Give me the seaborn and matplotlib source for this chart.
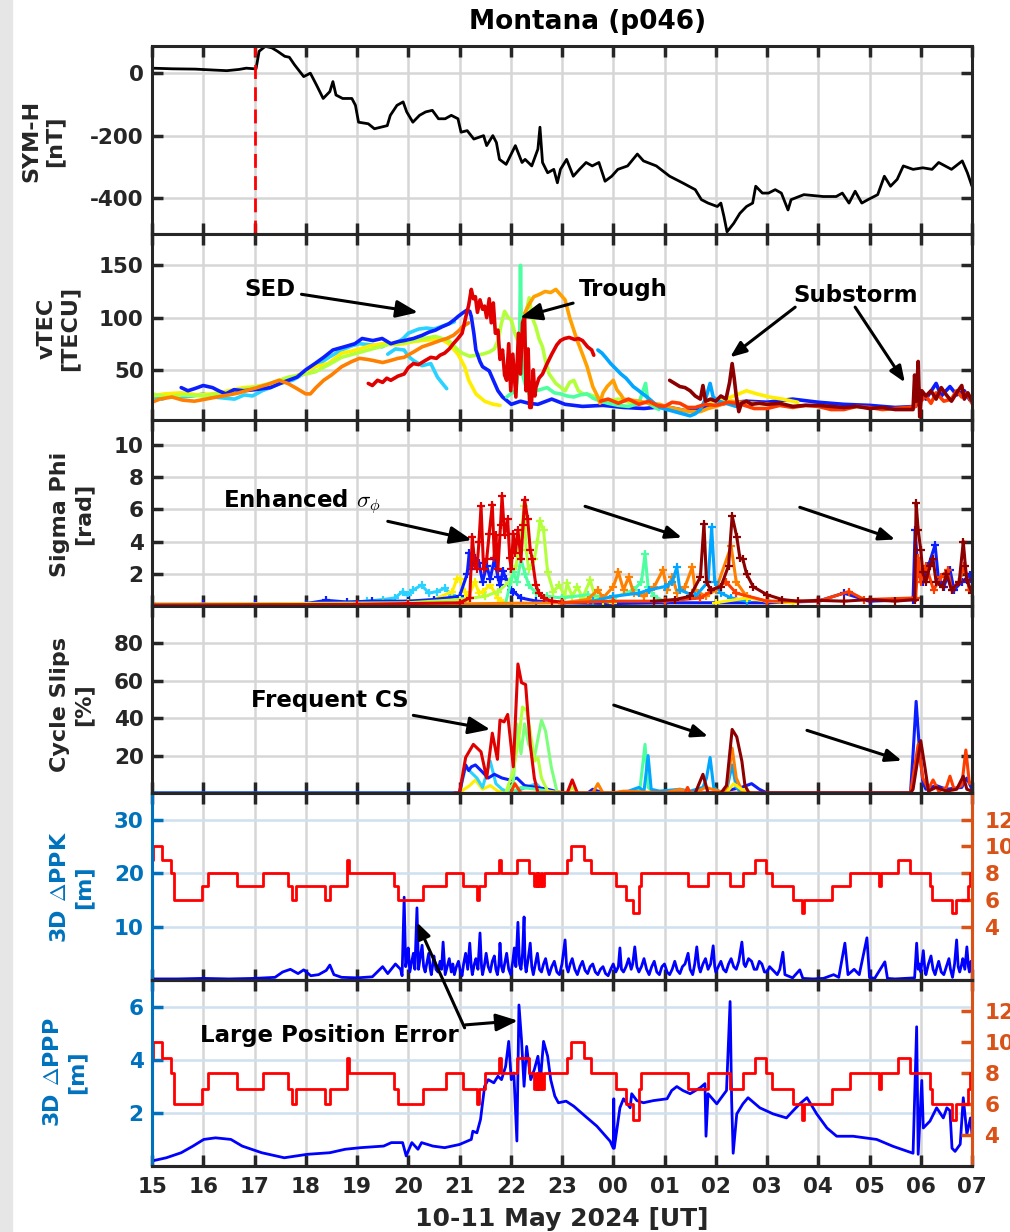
import matplotlib
matplotlib.use("Agg")
import matplotlib.pyplot as plt
import seaborn as sns
from matplotlib.patches import Rectangle

# ---------------- data (time in hours after 15 UT, 10 May 2024) ----------------
hour_ticks = list(range(0, 17))
hour_labels = ["15", "16", "17", "18", "19", "20", "21", "22", "23",
               "00", "01", "02", "03", "04", "05", "06", "07"]
storm_onset = 2.0

symh = [(0.00, 16), (0.4, 14), (0.84, 13), (1.2, 10), (1.46, 8), (1.7, 12), (1.84, 16), (2.0, 14),
        (2.03, 14), (2.09, 70), (2.21, 86), (2.34, 81), (2.45, 70), (2.59, 54), (2.68, 51), (2.78, 27),
        (2.96, -11), (3.09, 0), (3.21, -38), (3.34, -81), (3.47, -59), (3.53, -27), (3.59, -70),
        (3.72, -81), (3.90, -81), (3.97, -103), (4.03, -157), (4.22, -162), (4.34, -178), (4.59, -168),
        (4.65, -135), (4.78, -103), (4.90, -92), (4.97, -124), (5.09, -157), (5.22, -135), (5.34, -124),
        (5.47, -119), (5.59, -146), (5.72, -146), (5.84, -135), (5.97, -146), (6.03, -189), (6.15, -184),
        (6.28, -211), (6.47, -200), (6.53, -232), (6.65, -200), (6.72, -222), (6.78, -276), (6.91, -292),
        (7.09, -232), (7.22, -286), (7.28, -276), (7.41, -297), (7.53, -243), (7.57, -173), (7.62, -286),
        (7.72, -319), (7.84, -308), (7.91, -351), (7.97, -308), (8.09, -276), (8.22, -330), (8.34, -308),
        (8.47, -286), (8.59, -297), (8.72, -286), (8.84, -346), (8.97, -330), (9.09, -308), (9.28, -297),
        (9.47, -259), (9.59, -281), (9.84, -297), (10.10, -330), (10.35, -351), (10.60, -373),
        (10.72, -405), (10.85, -416), (11.03, -427), (11.10, -416), (11.16, -459), (11.22, -508),
        (11.35, -481), (11.47, -449), (11.60, -427), (11.72, -416), (11.78, -362), (11.91, -384),
        (12.03, -384), (12.16, -373), (12.28, -384), (12.41, -438), (12.47, -405), (12.72, -389),
        (13.10, -395), (13.35, -395), (13.47, -384), (13.60, -416), (13.72, -378), (13.85, -416),
        (13.97, -405), (14.16, -389), (14.29, -330), (14.41, -362), (14.54, -340), (14.66, -297),
        (14.85, -308), (15.04, -303), (15.22, -308), (15.35, -286), (15.60, -308), (15.81, -281),
        (15.91, -319), (16.00, -362)]

# vTEC per satellite [TECU]
tec_blue = [(0.57, 33), (0.7, 30), (0.83, 32), (1.0, 35), (1.18, 33), (1.3, 30), (1.44, 27), (1.6, 31),
            (1.79, 30), (2.0, 31), (2.31, 33), (2.55, 38), (2.83, 43), (3.0, 50), (3.18, 56), (3.35, 62),
            (3.53, 69), (3.75, 72), (3.96, 75), (4.1, 80), (4.31, 78), (4.49, 80), (4.66, 75), (4.8, 77),
            (4.92, 78), (5.1, 80), (5.27, 83), (5.4, 86), (5.53, 88), (5.65, 91), (5.79, 94), (5.9, 98),
            (5.97, 101), (6.05, 104), (6.14, 107), (6.2, 106), (6.23, 101), (6.28, 85), (6.32, 69),
            (6.4, 58), (6.45, 53), (6.58, 49), (6.66, 40), (6.75, 30), (6.84, 24), (7.01, 17), (7.19, 20),
            (7.35, 18), (7.53, 17), (7.8, 22), (8.06, 17), (8.4, 15), (8.8, 16), (9.2, 14), (9.6, 13),
            (10.0, 15), (10.4, 11), (10.8, 14), (11.2, 18), (11.6, 20), (12.0, 19), (12.5, 22), (13.0, 19),
            (13.5, 17), (14.0, 16), (14.5, 14), (14.9, 15), (15.0, 28), (15.1, 22), (15.3, 37), (15.4, 25),
            (15.57, 34), (15.7, 26), (15.85, 30), (15.96, 21), (16.0, 24)]
tec_cyan = [(0.0, 24), (0.2, 22), (0.4, 26), (0.57, 24), (0.8, 25), (1.0, 27), (1.2, 24), (1.4, 23),
            (1.61, 22), (1.8, 26), (1.96, 25), (2.15, 30), (2.31, 33), (2.5, 37), (2.74, 40), (2.95, 46),
            (3.18, 53), (3.45, 62), (3.7, 69), (3.9, 73), (4.05, 75), (4.25, 74), (4.49, 72), (4.6, 75),
            (4.75, 75), (4.9, 80), (5.0, 85), (5.2, 89), (5.36, 90), (5.5, 89), (5.62, 91), (5.79, 94),
            (5.9, 96)]
tec_cyan_b = [(4.6, 65), (4.75, 70), (4.92, 69), (5.0, 63), (5.1, 59), (5.27, 54), (5.44, 56), (5.5, 50),
              (5.57, 43), (5.65, 38), (5.75, 32)]
tec_yellow = [(0, 25), (0.25, 27), (0.57, 28), (0.9, 26), (1.18, 27), (1.5, 30), (1.79, 33), (2.05, 34),
              (2.31, 36), (2.5, 40), (2.74, 43), (3.0, 48), (3.18, 53), (3.44, 56), (3.7, 66), (3.9, 68),
              (4.05, 70), (4.25, 73), (4.49, 75), (4.7, 74), (4.92, 75), (5.1, 77), (5.27, 78), (5.45, 79),
              (5.62, 80), (5.79, 75), (5.97, 65), (6.1, 53), (6.18, 40), (6.32, 27), (6.49, 20), (6.66, 17),
              (6.79, 16)]
tec_yellow_b = [(10.9, 20), (11.2, 22), (11.4, 26), (11.6, 30), (11.8, 27), (12.05, 24), (12.3, 22),
                (12.6, 19)]
tec_chart = [(0, 27), (0.3, 24), (0.6, 26), (1.0, 25), (1.4, 28), (1.96, 33), (2.3, 37), (2.66, 43),
             (2.9, 45), (3.18, 48), (3.45, 55), (3.7, 62), (4.0, 66), (4.22, 69), (4.45, 72), (4.66, 75),
             (4.9, 76), (5.1, 78), (5.3, 80), (5.53, 82), (5.79, 78), (5.95, 70), (6.05, 66), (6.2, 63),
             (6.32, 64), (6.45, 65), (6.58, 67), (6.68, 70), (6.75, 78), (6.82, 95), (6.88, 106), (6.95, 100),
             (7.01, 98), (7.08, 85), (7.14, 78), (7.23, 91), (7.3, 105), (7.36, 119), (7.42, 100), (7.49, 91),
             (7.55, 80), (7.62, 72), (7.68, 58), (7.75, 46), (7.88, 37), (8.06, 30), (8.15, 38), (8.23, 40),
             (8.32, 30), (8.41, 27), (8.55, 26), (8.67, 24), (8.84, 20), (9.1, 22), (9.45, 17)]
tec_aqua = [(6.92, 24), (7.0, 27), (7.1, 30), (7.17, 60), (7.19, 150), (7.21, 70), (7.23, 46), (7.3, 33),
            (7.36, 27), (7.5, 30), (7.71, 33), (7.85, 28), (7.97, 27), (8.1, 25), (8.23, 24), (8.35, 26),
            (8.49, 27), (8.6, 23), (8.75, 20), (8.9, 18), (9.1, 16), (9.3, 15), (9.5, 18), (9.63, 37),
            (9.68, 18), (9.89, 12)]
tec_orange = [(0, 19), (0.15, 22), (0.39, 24), (0.6, 21), (0.83, 20), (1.05, 22), (1.26, 24), (1.5, 26),
              (1.7, 28), (1.9, 31), (2.05, 33), (2.25, 36), (2.48, 40), (2.65, 37), (2.83, 32), (3.0, 27),
              (3.09, 27), (3.2, 33), (3.35, 40), (3.5, 45), (3.7, 53), (3.9, 58), (4.05, 61), (4.2, 60),
              (4.31, 59), (4.5, 57), (4.66, 59), (4.8, 61), (4.92, 62), (5.1, 67), (5.27, 72), (5.45, 75),
              (5.62, 78), (5.75, 80), (5.88, 83), (6.0, 88), (6.05, 91), (6.18, 95)]
tec_amber = [(7.27, 104), (7.35, 112), (7.45, 120), (7.55, 122), (7.67, 125), (7.78, 124), (7.88, 127),
             (7.97, 122), (8.06, 117), (8.15, 100), (8.29, 79), (8.4, 65), (8.49, 53), (8.6, 34), (8.7, 24),
             (8.74, 18), (8.8, 28), (8.88, 34), (9.0, 40), (9.07, 31), (9.15, 26), (9.2, 22), (9.35, 21),
             (9.5, 20), (9.7, 18), (9.9, 17), (10.1, 14), (10.3, 12), (10.5, 10), (10.7, 10), (10.85, 13),
             (11.0, 15), (11.3, 20), (11.5, 19), (11.8, 18), (12.1, 17), (12.5, 15)]
tec_red = [(4.22, 37), (4.3, 35), (4.4, 40), (4.5, 38), (4.58, 42), (4.66, 40), (4.8, 44), (4.92, 46),
           (5.0, 52), (5.1, 56), (5.2, 55), (5.3, 58), (5.44, 62), (5.55, 61), (5.62, 64), (5.71, 66),
           (5.8, 70), (5.88, 75), (5.97, 80), (6.05, 85), (6.12, 100), (6.18, 112), (6.23, 127), (6.27, 118),
           (6.31, 120), (6.35, 105), (6.4, 117), (6.45, 108), (6.49, 111), (6.53, 100), (6.58, 118),
           (6.62, 95), (6.66, 114), (6.7, 85), (6.75, 88), (6.79, 60), (6.84, 69), (6.88, 45), (6.92, 40),
           (6.96, 75), (7.0, 30), (7.04, 65), (7.1, 24), (7.15, 85), (7.19, 46), (7.23, 95), (7.27, 101),
           (7.3, 30), (7.34, 70), (7.37, 14), (7.4, 14), (7.44, 50), (7.47, 25), (7.49, 33), (7.55, 42),
           (7.62, 46), (7.7, 55), (7.8, 65), (7.9, 74), (7.97, 78), (8.05, 80), (8.14, 81), (8.25, 79),
           (8.32, 80), (8.4, 78), (8.5, 72), (8.58, 69), (8.62, 64)]
tec_sky = [(8.7, 69), (8.78, 66), (8.85, 62), (8.95, 56), (9.07, 50), (9.15, 46), (9.25, 42), (9.39, 34),
           (9.5, 30), (9.55, 28), (9.66, 24), (9.8, 18), (9.91, 14), (10.05, 12), (10.2, 10), (10.35, 8),
           (10.5, 6), (10.6, 8), (10.7, 12), (10.8, 22), (10.89, 37), (10.95, 24), (11.05, 20), (11.2, 18),
           (11.4, 15)]
tec_orred = [(8.75, 20), (8.9, 22), (9.1, 18), (9.3, 22), (9.5, 17), (9.7, 20), (9.85, 16), (10.0, 15),
             (10.15, 19), (10.3, 18), (10.45, 14), (10.6, 14), (10.8, 17), (11.0, 16), (11.25, 19),
             (11.5, 17), (11.75, 13), (12.0, 13), (12.25, 16), (12.5, 14), (12.75, 16), (13.0, 15),
             (13.25, 12), (13.5, 12), (13.75, 15), (14.0, 14), (14.25, 12), (14.5, 13), (14.75, 14),
             (14.9, 15), (14.95, 35), (15.0, 20), (15.1, 25), (15.2, 18), (15.3, 28), (15.45, 20),
             (15.6, 22), (15.7, 30), (15.8, 24), (15.9, 28), (16.0, 18)]
tec_dark = [(10.1, 40), (10.2, 37), (10.3, 34), (10.4, 33), (10.5, 30), (10.6, 25), (10.7, 22), (10.75, 35),
            (10.8, 20), (10.9, 22), (11.0, 20), (11.1, 25), (11.2, 22), (11.27, 38), (11.32, 56),
            (11.36, 42), (11.4, 25), (11.45, 10), (11.5, 18), (11.6, 20), (11.7, 17), (11.85, 18),
            (12.0, 17), (12.25, 18), (12.5, 15), (12.75, 16), (13.0, 16), (13.25, 15), (13.5, 14),
            (13.75, 15), (14.0, 13), (14.25, 14), (14.5, 12), (14.7, 12), (14.85, 12), (14.88, 45),
            (14.91, 20), (14.95, 58), (14.98, 5), (15.02, 30), (15.1, 25), (15.2, 30), (15.3, 22),
            (15.4, 33), (15.5, 26), (15.6, 20), (15.7, 28), (15.8, 35), (15.85, 22), (15.92, 28), (16.0, 20)]

# phase scintillation index sigma_phi per satellite [rad]
sp_blue = [(0, 0.1), (1, 0.1), (2, 0.1), (3, 0.15), (3.4, 0.35), (3.8, 0.25), (4.3, 0.3), (5.0, 0.3),
           (5.5, 0.4), (6.0, 0.6), (6.15, 2.0), (6.19, 3.3), (6.23, 2.3), (6.3, 3.0), (6.38, 2.7),
           (6.45, 1.5), (6.53, 2.5), (6.6, 1.7), (6.68, 2.9), (6.75, 1.8), (6.79, 1.3), (6.85, 2.2),
           (6.9, 1.7), (7.0, 1.0), (7.05, 0.9), (7.2, 0.5), (7.5, 0.3), (8, 0.2), (9, 0.15), (10, 0.2),
           (11, 0.2), (12.0, 0.2), (13.0, 0.3), (13.5, 0.8), (14.0, 0.3), (14.85, 0.4), (14.89, 4.7),
           (14.95, 2.0), (15.05, 1.5), (15.15, 2.5), (15.28, 3.8), (15.35, 1.5), (15.45, 1.2),
           (15.57, 2.25), (15.65, 1.0), (15.8, 1.5), (15.96, 1.9), (16.0, 1.5)]
sp_cyan = [(0, 0.1), (2, 0.1), (3.5, 0.15), (4.2, 0.3), (4.5, 0.4), (4.74, 0.5), (4.89, 0.9), (5.0, 0.7),
           (5.1, 1.0), (5.26, 1.3), (5.4, 0.8), (5.56, 0.9), (5.71, 1.1), (5.85, 0.7), (6.0, 0.5), (6.1, 0.3)]
sp_sky = [(8.6, 0.3), (9.0, 0.6), (9.5, 0.8), (9.7, 1.0), (10.0, 1.2), (10.15, 1.5), (10.24, 2.4),
          (10.3, 1.0), (10.6, 0.6), (10.85, 1.5), (10.92, 4.9), (10.98, 1.5), (11.1, 0.8), (11.3, 0.5),
          (11.6, 0.3)]
sp_yellow = [(0, 0.1), (3, 0.1), (4.5, 0.2), (5.5, 0.4), (5.86, 0.9), (5.95, 1.7), (6.0, 1.7), (6.1, 0.9),
             (6.16, 0.5), (6.3, 1.5), (6.38, 0.8), (6.45, 0.9), (6.6, 1.3), (6.75, 0.5), (6.85, 0.2)]
sp_yellow_b = [(11.0, 0.2), (11.6, 0.5), (12.0, 0.3), (12.5, 0.2)]
sp_chart = [(0, 0.1), (5, 0.2), (6.0, 0.4), (6.5, 0.6), (6.75, 0.9), (6.97, 1.5), (7.1, 2.5), (7.2, 4.3),
            (7.26, 6.2), (7.3, 3.5), (7.35, 2.3), (7.46, 2.9), (7.52, 4.0), (7.57, 5.3), (7.64, 4.7),
            (7.72, 2.1), (7.83, 0.9), (7.95, 1.3), (8.05, 0.6), (8.1, 1.4), (8.2, 0.6), (8.3, 1.2),
            (8.4, 0.5), (8.55, 1.6), (8.65, 0.5), (8.8, 0.3), (9.0, 0.2)]
sp_aqua = [(6.9, 0.2), (7.05, 2.1), (7.12, 1.5), (7.2, 2.9), (7.28, 2.0), (7.35, 1.3), (7.5, 0.8),
           (7.7, 0.6), (8.0, 0.5), (8.5, 0.7), (9.0, 0.5), (9.4, 1.0), (9.55, 1.5), (9.62, 3.2),
           (9.68, 1.2), (9.8, 0.6), (10.0, 0.3)]
sp_orange = [(0, 0.1), (5.0, 0.1), (8.0, 0.2), (8.5, 0.4), (8.7, 1.0), (8.8, 0.5), (9.0, 1.2), (9.1, 2.1),
             (9.2, 1.0), (9.3, 1.8), (9.4, 0.8), (9.6, 0.6), (9.8, 1.2), (9.97, 2.25), (10.05, 1.0),
             (10.15, 1.8), (10.25, 0.8), (10.4, 1.2), (10.54, 2.4), (10.6, 1.0), (10.8, 0.6), (11.0, 1.0),
             (11.3, 3.7), (11.4, 1.5), (11.6, 0.6), (12.0, 0.3)]
sp_red = [(0, 0.05), (4.0, 0.1), (5.0, 0.15), (6.0, 0.2), (6.2, 0.5), (6.25, 4.3), (6.3, 2.5), (6.34, 2.3),
          (6.38, 4.0), (6.42, 6.2), (6.47, 2.3), (6.53, 2.9), (6.58, 4.5), (6.64, 6.3), (6.68, 3.0),
          (6.71, 4.4), (6.75, 2.3), (6.8, 5.0), (6.83, 6.8), (6.88, 4.4), (6.94, 5.4), (6.98, 3.0),
          (7.01, 2.3), (7.05, 4.5), (7.09, 3.3), (7.14, 4.7), (7.2, 2.9), (7.24, 5.0), (7.27, 6.6),
          (7.33, 5.4), (7.38, 3.5), (7.42, 2.9), (7.49, 1.3), (7.55, 0.8), (7.64, 0.5), (7.8, 0.3), (8.0, 0.25)]
sp_orred = [(8.0, 0.2), (9, 0.3), (10, 0.3), (10.7, 0.5), (11.2, 1.5), (11.4, 0.8), (12, 0.3), (13.0, 0.3),
            (13.6, 0.9), (13.9, 0.4), (14.9, 0.5), (14.95, 3.0), (15.0, 1.5), (15.1, 2.5), (15.25, 1.0),
            (15.4, 1.8), (15.53, 2.25), (15.6, 1.0), (15.75, 1.5), (15.85, 2.5), (15.95, 1.0), (16, 1.2)]
sp_dark = [(9.8, 0.3), (10.2, 0.4), (10.5, 0.6), (10.7, 1.8), (10.77, 5.1), (10.82, 1.5), (10.9, 1.0),
           (11.1, 1.2), (11.25, 2.5), (11.32, 5.6), (11.41, 4.3), (11.47, 3.0), (11.53, 2.9), (11.6, 2.0),
           (11.73, 1.2), (12.0, 0.7), (12.3, 0.4), (12.6, 0.3), (13.0, 0.35), (13.5, 0.3), (14.0, 0.4),
           (14.5, 0.3), (14.88, 0.4), (14.91, 6.4), (14.95, 4.7), (15.0, 3.5), (15.04, 2.1), (15.1, 1.5),
           (15.18, 2.5), (15.24, 2.9), (15.3, 1.5), (15.43, 1.2), (15.5, 2.0), (15.6, 1.0), (15.75, 1.5),
           (15.83, 4.0), (15.87, 2.5), (15.9, 1.6), (16.0, 0.8)]

# cycle slip occurrence per satellite [%]
cs_blue = [(0, 0), (6.0, 0), (6.06, 8), (6.12, 15), (6.18, 12), (6.23, 14), (6.31, 15), (6.42, 12),
           (6.56, 8), (6.68, 10), (6.83, 8), (6.98, 7), (7.12, 8), (7.27, 4), (7.5, 3), (7.72, 2), (8.0, 0),
           (8.5, 0), (8.6, 2), (8.8, 0), (11.0, 0), (11.5, 3), (11.7, 5), (11.85, 2), (12, 0), (14.8, 0),
           (14.85, 21), (14.91, 49), (14.97, 25), (15.04, 6), (15.1, 2), (15.3, 4), (15.5, 2), (15.8, 3),
           (15.9, 8), (16, 2)]
cs_cyan = [(0, 0), (6.0, 0), (6.12, 14), (6.19, 12), (6.34, 8), (6.45, 3), (6.6, 17), (6.71, 5), (6.83, 2),
           (7.0, 0), (7.2, 2), (7.5, 5), (7.6, 2), (8, 0)]
cs_sky = [(9.0, 0), (9.3, 1), (9.5, 3), (9.6, 1), (9.68, 20), (9.74, 2), (9.9, 1), (10.3, 2), (10.5, 1),
          (10.75, 3), (10.82, 8), (10.89, 19), (10.96, 3), (11.1, 0), (11.2, 0), (11.28, 10), (11.32, 15),
          (11.4, 3), (11.5, 0)]
cs_yellow = [(6.0, 0), (6.04, 1), (6.2, 4), (6.31, 7), (6.45, 2), (6.6, 4), (6.75, 1), (7.0, 0)]
cs_yellow_b = [(11.2, 0), (11.35, 5), (11.5, 2), (11.7, 0)]
cs_chart = [(6.9, 0), (7.05, 12), (7.16, 30), (7.23, 46), (7.31, 44), (7.38, 33), (7.46, 17), (7.53, 19),
            (7.6, 8), (7.72, 1), (7.9, 0), (8.1, 0), (8.2, 3), (8.3, 0)]
cs_green = [(6.9, 0), (7.05, 5), (7.12, 37), (7.2, 21), (7.27, 37), (7.35, 26), (7.46, 19), (7.6, 39),
            (7.68, 33), (7.79, 14), (7.9, 1), (8.0, 0)]
cs_aqua = [(7.0, 0), (7.2, 3), (7.5, 2), (8.0, 0), (9.3, 0), (9.52, 2), (9.62, 26), (9.68, 3), (9.8, 0)]
cs_orange = [(7.5, 0), (8.6, 0), (8.7, 5), (8.8, 0), (9.0, 0), (9.2, 1), (10.0, 0), (10.3, 2), (10.4, 1),
             (10.6, 0), (10.8, 3), (11.2, 0), (11.32, 24), (11.4, 8), (11.5, 2), (11.6, 0)]
cs_red = [(5.9, 0), (6.0, 0), (6.12, 19), (6.27, 26), (6.42, 22), (6.53, 8), (6.64, 32), (6.74, 18),
          (6.79, 39), (6.87, 38), (6.94, 42), (7.05, 14), (7.14, 69), (7.21, 59), (7.29, 58), (7.38, 26),
          (7.46, 8), (7.53, 0), (8.1, 0), (8.2, 7), (8.3, 0)]
cs_orred = [(7.0, 0), (7.08, 5), (7.2, 0), (10.4, 0), (10.45, 3), (10.5, 0), (14.8, 0), (14.95, 26),
            (15.04, 8), (15.15, 2), (15.24, 7), (15.35, 1), (15.5, 3), (15.57, 9), (15.65, 2), (15.8, 4),
            (15.88, 23), (15.95, 5), (16.0, 6)]
cs_dark = [(10.6, 0), (10.75, 10), (10.85, 0), (11.1, 0), (11.21, 4), (11.32, 34), (11.41, 30),
           (11.51, 17), (11.57, 4), (11.65, 0), (14.8, 0), (14.85, 2), (15.0, 28), (15.08, 14), (15.15, 1),
           (15.3, 3), (15.5, 1), (15.7, 2), (15.83, 9), (15.9, 2), (16.0, 1)]

# number of tracked satellites (right axes), step changes
nsat = [(0.00, 9), (0.02, 10), (0.19, 9), (0.38, 8), (0.42, 6), (0.97, 7), (1.10, 8), (1.66, 7), (2.16, 8),
        (2.66, 7), (2.73, 6), (2.80, 7), (3.38, 6), (3.48, 7), (3.81, 9), (3.84, 8), (4.73, 7), (4.80, 6),
        (5.28, 7), (5.74, 8), (6.07, 7), (6.34, 6), (6.39, 7), (6.50, 8), (6.78, 9), (6.80, 8), (7.12, 9),
        (7.36, 8), (7.46, 7), (7.49, 8), (7.51, 7), (7.54, 8), (7.56, 7), (7.59, 8), (7.61, 7), (7.64, 8),
        (8.10, 9), (8.18, 10), (8.42, 9), (8.56, 8), (9.05, 7), (9.25, 6), (9.38, 5), (9.50, 7), (9.55, 8),
        (10.46, 7), (10.85, 8), (11.28, 7), (11.53, 8), (11.77, 9), (11.99, 8), (12.10, 7), (12.51, 6),
        (12.69, 5), (12.73, 6), (13.27, 7), (13.62, 8), (14.18, 7), (14.22, 8), (14.55, 9), (14.79, 8),
        (15.18, 7), (15.22, 6), (15.61, 5), (15.68, 6), (15.93, 7), (15.97, 8), (16.0, 8)]

# 3D position error, PPK [m]
ppk = [(0.0, 0.2), (0.5, 0.2), (1.0, 0.3), (1.5, 0.2), (2.0, 0.3), (2.4, 0.5), (2.55, 1.5), (2.7, 2.0),
       (2.85, 1.2), (2.96, 1.9), (3.1, 0.8), (3.25, 1.0), (3.4, 1.8), (3.47, 2.8), (3.55, 1.0), (3.7, 0.5),
       (4.0, 0.4), (4.3, 0.6), (4.5, 2.5), (4.6, 1.2), (4.75, 3.0), (4.85, 2.0), (4.88, 0.8), (4.92, 15.5),
       (4.95, 2.5), (4.98, 4.0), (5.0, 6.0), (5.03, 1.5), (5.07, 3.5), (5.1, 5.0), (5.13, 2.0),
       (5.17, 13.5), (5.2, 2.0), (5.23, 4.0), (5.27, 6.5), (5.3, 2.5), (5.33, 1.5), (5.37, 3.5), (5.4, 5.0),
       (5.43, 2.0), (5.45, 1.0), (5.48, 3.0), (5.5, 4.5), (5.54, 2.0), (5.58, 1.5), (5.62, 3.5), (5.65, 2.0),
       (5.68, 7.1), (5.72, 1.0), (5.76, 2.5), (5.8, 4.0), (5.84, 1.5), (5.87, 3.0), (5.9, 1.0), (5.94, 2.5),
       (5.98, 3.5), (6.02, 1.5), (6.05, 0.8), (6.08, 3.0), (6.12, 5.0), (6.16, 2.0), (6.2, 6.9), (6.23, 2.5),
       (6.25, 1.0), (6.29, 3.0), (6.32, 4.0), (6.36, 2.0), (6.4, 8.8), (6.43, 2.5), (6.45, 1.0), (6.49, 3.0),
       (6.52, 5.0), (6.56, 2.5), (6.6, 1.5), (6.64, 3.5), (6.68, 4.5), (6.71, 2.0), (6.74, 1.0), (6.77, 3.0),
       (6.79, 6.9), (6.82, 2.5), (6.85, 1.5), (6.89, 3.5), (6.92, 5.0), (6.96, 2.0), (7.0, 1.0), (7.04, 3.5),
       (7.07, 6.0), (7.1, 2.5), (7.14, 10.8), (7.17, 3.0), (7.2, 2.0), (7.23, 5.0), (7.26, 11.8),
       (7.28, 3.0), (7.3, 1.5), (7.34, 4.0), (7.38, 6.9), (7.41, 2.5), (7.44, 1.0), (7.48, 3.0), (7.52, 5.0),
       (7.56, 2.0), (7.6, 1.5), (7.64, 3.0), (7.68, 4.0), (7.72, 2.0), (7.75, 1.0), (7.8, 2.5), (7.85, 3.5),
       (7.9, 1.5), (7.95, 1.0), (8.0, 3.0), (8.06, 7.5), (8.09, 2.5), (8.12, 1.5), (8.16, 3.0), (8.2, 4.0),
       (8.25, 2.0), (8.3, 1.0), (8.35, 2.5), (8.4, 3.5), (8.45, 1.8), (8.5, 1.2), (8.55, 2.5), (8.6, 3.0),
       (8.65, 1.5), (8.7, 1.0), (8.75, 2.0), (8.8, 2.5), (8.85, 1.2), (8.9, 0.8), (8.95, 2.0), (9.0, 3.0),
       (9.05, 1.5), (9.1, 2.5), (9.13, 6.0), (9.16, 2.0), (9.2, 1.5), (9.25, 2.5), (9.3, 4.0), (9.35, 2.0),
       (9.38, 3.0), (9.42, 6.2), (9.46, 2.5), (9.5, 1.5), (9.55, 2.5), (9.6, 4.0), (9.65, 2.0), (9.7, 1.0),
       (9.75, 2.5), (9.8, 3.5), (9.85, 1.5), (9.9, 1.0), (9.95, 2.5), (10.0, 3.0), (10.05, 1.5),
       (10.1, 1.0), (10.15, 2.0), (10.2, 3.5), (10.25, 1.8), (10.3, 1.2), (10.35, 2.5), (10.4, 3.0),
       (10.46, 5.0), (10.5, 2.0), (10.55, 1.0), (10.59, 3.0), (10.63, 6.2), (10.67, 2.5), (10.7, 1.5),
       (10.75, 3.0), (10.8, 4.0), (10.85, 2.0), (10.9, 3.0), (10.95, 6.4), (10.98, 2.5), (11.0, 1.5),
       (11.05, 2.5), (11.1, 3.5), (11.15, 2.0), (11.2, 1.5), (11.25, 3.0), (11.3, 4.0), (11.35, 2.5),
       (11.4, 2.0), (11.45, 3.5), (11.51, 7.1), (11.55, 3.0), (11.58, 2.5), (11.64, 4.0), (11.7, 3.5),
       (11.75, 2.0), (11.8, 2.0), (11.85, 3.5), (11.9, 3.0), (11.95, 1.5), (12.0, 1.5), (12.05, 2.5),
       (12.1, 2.0), (12.15, 1.5), (12.2, 1.0), (12.25, 2.0), (12.31, 5.2), (12.35, 1.0), (12.4, 0.8),
       (12.5, 0.4), (12.64, 1.9), (12.7, 0.3), (12.9, 0.2), (13.1, 0.3), (13.3, 1.0), (13.4, 0.5),
       (13.52, 6.9), (13.58, 1.0), (13.7, 2.0), (13.8, 1.0), (13.95, 7.9), (14.0, 0.5), (14.1, 0.3),
       (14.3, 3.4), (14.35, 0.3), (14.5, 0.2), (14.7, 0.3), (14.88, 0.4), (14.92, 6.9), (14.95, 2.0),
       (14.97, 3.0), (15.0, 1.5), (15.05, 5.5), (15.08, 2.0), (15.1, 1.0), (15.15, 3.0), (15.2, 4.5),
       (15.24, 2.0), (15.28, 1.0), (15.32, 2.5), (15.35, 3.5), (15.4, 1.5), (15.45, 1.0), (15.5, 2.5),
       (15.55, 4.0), (15.58, 2.0), (15.62, 0.5), (15.66, 3.0), (15.7, 7.5), (15.73, 2.5), (15.76, 1.5),
       (15.8, 3.0), (15.82, 4.0), (15.86, 2.0), (15.9, 6.2), (15.93, 2.5), (15.95, 1.5), (15.98, 3.5),
       (16.0, 3.0)]

# 3D position error, PPP [m]
ppp = [(0.0, 0.19), (0.28, 0.31), (0.57, 0.5), (0.8, 0.75), (1.01, 1.0), (1.24, 1.06), (1.54, 1.0),
       (1.76, 0.75), (2.14, 0.5), (2.58, 0.31), (3.03, 0.44), (3.47, 0.5), (3.77, 0.63), (4.07, 0.69),
       (4.52, 0.75), (4.67, 0.88), (4.89, 0.88), (4.96, 0.38), (5.07, 0.88), (5.19, 0.63), (5.26, 0.88),
       (5.48, 0.75), (5.71, 0.69), (6.0, 0.81), (6.23, 1.0), (6.26, 1.31), (6.34, 1.25), (6.41, 1.75),
       (6.49, 3.0), (6.56, 3.25), (6.67, 3.13), (6.75, 3.38), (6.82, 3.25), (6.9, 3.75), (6.96, 4.69),
       (7.01, 3.25), (7.06, 3.5), (7.12, 0.94), (7.16, 6.06), (7.21, 4.75), (7.26, 3.0), (7.31, 4.5),
       (7.39, 3.25), (7.46, 3.63), (7.53, 4.13), (7.58, 3.25), (7.64, 4.69), (7.72, 4.13), (7.78, 3.25),
       (7.86, 2.63), (7.93, 2.38), (8.08, 2.44), (8.23, 2.25), (8.45, 1.88), (8.68, 1.5), (8.94, 0.93),
       (9.0, 0.67), (9.01, 2.53), (9.02, 0.67), (9.13, 2.19), (9.2, 2.53), (9.33, 2.19), (9.36, 2.72),
       (9.46, 2.46), (9.59, 2.38), (9.78, 2.46), (10.05, 2.53), (10.14, 2.84), (10.24, 2.99),
       (10.36, 2.84), (10.5, 2.72), (10.7, 2.95), (10.79, 3.1), (10.81, 1.12), (10.85, 2.72),
       (11.02, 2.34), (11.21, 2.84), (11.28, 6.19), (11.31, 2.46), (11.34, 0.48), (11.41, 1.96),
       (11.53, 2.34), (11.63, 2.57), (11.86, 2.19), (12.12, 1.96), (12.38, 1.81), (12.51, 2.08),
       (12.64, 2.34), (12.78, 2.57), (12.97, 1.96), (13.17, 1.43), (13.36, 1.12), (13.68, 1.12),
       (14.14, 1.0), (14.46, 0.74), (14.85, 0.48), (14.92, 5.24), (14.95, 0.44), (15.02, 3.22),
       (15.05, 1.43), (15.18, 1.69), (15.31, 2.19), (15.44, 1.81), (15.51, 2.19), (15.57, 2.08),
       (15.61, 0.67), (15.67, 0.55), (15.77, 0.82), (15.83, 2.57), (15.9, 1.2), (15.97, 1.81), (16.0, 1.2)]

# ---------------- styling ----------------
sns.set_theme(style="white")
plt.rcParams["font.family"] = ["DejaVu Sans"]
plt.rcParams["font.weight"] = "bold"
plt.rcParams["axes.labelweight"] = "bold"
plt.rcParams["axes.unicode_minus"] = False
plt.rcParams["mathtext.fontset"] = "cm"

INK = "#262626"
LEFT_BLUE = "#0072BD"
RIGHT_ORANGE = "#D95319"
TICK_FS = 15.5
NOTE_FS = 16.5
C = {
    "blue": "#0a1eff", "cyan": "#2ad2ff", "sky": "#00a6ff", "aqua": "#4dffa0", "chart": "#b4ff3c",
    "green": "#7dff7d", "yellow": "#ffee00", "orange": "#ff8000", "amber": "#ffa000",
    "red": "#e00000", "orred": "#ff3c00", "dark": "#8c0000",
}
ARROW = dict(arrowstyle="-|>,head_length=0.8,head_width=0.32", color="black", lw=2.2)

W, H = 1010, 1232
fig = plt.figure(figsize=(W / 100, H / 100), dpi=100)
fig.add_artist(Rectangle((0, 0), 12 / W, 1, transform=fig.transFigure, color="#e6e6e6", zorder=0))

tops = [46, 234, 420, 606, 793, 980]
bots = [234, 420, 606, 793, 980, 1166]
axes = [fig.add_axes([152 / W, 1 - b / H, 820 / W, (b - t) / H]) for t, b in zip(tops, bots)]


def trace(ax, pts, color, lw=2.2, **kw):
    t, v = zip(*pts)
    sns.lineplot(x=list(t), y=list(v), ax=ax, color=color, lw=lw, estimator=None, sort=False,
                 errorbar=None, **kw)


def style(ax, ylim, yticks, tick_color=INK, right=True):
    ax.set_xlim(0, 16)
    ax.set_ylim(*ylim)
    ax.set_xticks(hour_ticks)
    ax.set_yticks(yticks)
    ax.set_xlabel("")
    ax.set_ylabel("")
    ax.set_axisbelow(True)
    ax.tick_params(axis="x", direction="in", length=8, width=2.5, color=INK, top=True, bottom=True,
                   labelsize=TICK_FS, labelcolor=INK, pad=8)
    ax.tick_params(axis="y", direction="in", length=8, width=2.5, color=tick_color, left=True,
                   right=right, labelsize=TICK_FS, labelcolor=tick_color, pad=6)
    for s in ax.spines.values():
        s.set_linewidth(2.2)
        s.set_color(INK)
    ax.tick_params(axis="x", labelbottom=False)


def note(ax, text, xy, xytext, **kw):
    ax.annotate(text, xy=xy, xytext=xytext, ha=kw.pop("ha", "center"), va="center", fontsize=NOTE_FS,
                fontweight="bold", color="black",
                arrowprops=dict(ARROW, shrinkA=kw.pop("shrinkA", 2), shrinkB=0), **kw)


def arrow(ax, start, end, **kw):
    ax.annotate("", xy=end, xytext=start, arrowprops=dict(ARROW, shrinkA=0, shrinkB=0), **kw)


# panel 1: SYM-H
ax = axes[0]
ax.grid(True, color="#d6d6d6", lw=1.8)
trace(ax, symh, "black", lw=2.0)
ax.axvline(storm_onset, color="#ff0000", lw=2, ls=(0, (5, 3)))
style(ax, (-515, 87), [-400, -200, 0])

# panel 2: vTEC
ax = axes[1]
ax.grid(True, color="#d6d6d6", lw=1.8)
for pts, col in [(tec_cyan, "cyan"), (tec_cyan_b, "cyan"), (tec_yellow, "yellow"), (tec_chart, "chart"),
                 (tec_blue, "blue"), (tec_orange, "orange"), (tec_aqua, "aqua"), (tec_amber, "amber"),
                 (tec_yellow_b, "yellow"), (tec_sky, "sky"), (tec_red, "red"), (tec_orred, "orred"),
                 (tec_dark, "dark")]:
    trace(ax, pts, C[col], lw=2.6)
style(ax, (2, 180), [50, 100, 150])
note(ax, "SED", (5.19, 105), (2.30, 127))
note(ax, "Trough", (7.18, 100), (9.2, 127))
ax.text(13.72, 121, "Substorm", ha="center", va="center", fontsize=NOTE_FS, fontweight="bold",
        color="black")
arrow(ax, (12.55, 110), (11.28, 62))
arrow(ax, (13.72, 110), (14.69, 38))

# panel 3: sigma phi
ax = axes[2]
ax.grid(True, color="#d6d6d6", lw=1.8)
for pts, col in [(sp_cyan, "cyan"), (sp_yellow, "yellow"), (sp_blue, "blue"), (sp_chart, "chart"),
                 (sp_aqua, "aqua"), (sp_orange, "orange"), (sp_sky, "sky"), (sp_yellow_b, "yellow"),
                 (sp_red, "red"), (sp_orred, "orred"), (sp_dark, "dark")]:
    trace(ax, pts, C[col], lw=2.2, marker="+", markersize=6, markeredgewidth=1.6,
          markeredgecolor=C[col], markerfacecolor=C[col])
style(ax, (0, 11.55), [2, 4, 6, 8, 10])
note(ax, "Enhanced $\\sigma_\\phi$", (6.24, 4.1), (1.39, 6.44), ha="left", shrinkA=4)
arrow(ax, (8.45, 6.19), (10.34, 4.25))
arrow(ax, (12.64, 6.13), (14.5, 4.13))

# panel 4: cycle slips
ax = axes[3]
ax.grid(True, color="#d6d6d6", lw=1.8)
for pts, col in [(cs_yellow, "yellow"), (cs_cyan, "cyan"), (cs_blue, "blue"), (cs_aqua, "aqua"),
                 (cs_green, "green"), (cs_chart, "chart"), (cs_sky, "sky"), (cs_orange, "orange"),
                 (cs_yellow_b, "yellow"), (cs_red, "red"), (cs_orred, "orred"), (cs_dark, "dark")]:
    trace(ax, pts, C[col], lw=2.2)
style(ax, (0, 100), [20, 40, 60, 80])
note(ax, "Frequent CS", (6.6, 34), (3.47, 49.7))
arrow(ax, (9.01, 47), (10.85, 30.3))
arrow(ax, (12.78, 33.5), (14.63, 17.3))

# panels 5-6: position errors with satellite count on the right axis
twins = []
for ax, pts, ylim, yticks, rlim in [(axes[4], ppk, (0, 35), [10, 20, 30], (0, 14)),
                                      (axes[5], ppp, (0, 7), [2, 4, 6], (2, 14))]:
    ax.xaxis.grid(True, color="#d6d6d6", lw=1.8)
    ax.yaxis.grid(True, color="#cfe0ee", lw=1.8)
    trace(ax, pts, "#0000ff", lw=2.0)
    style(ax, ylim, yticks, tick_color=LEFT_BLUE, right=False)
    ax.spines["left"].set_color(LEFT_BLUE)
    ax.spines["right"].set_color(RIGHT_ORANGE)
    tw = ax.twinx()
    t, v = zip(*nsat)
    sns.lineplot(x=list(t), y=list(v), ax=tw, color="#ff0000", lw=2.0, drawstyle="steps-post",
                 estimator=None, sort=False, errorbar=None)
    tw.set_ylim(*rlim)
    tw.set_yticks([4, 6, 8, 10, 12])
    tw.set_ylabel("")
    tw.tick_params(axis="y", direction="in", length=8, width=2.5, color=RIGHT_ORANGE, right=True,
                   labelsize=TICK_FS, labelcolor=RIGHT_ORANGE, pad=9)
    tw.tick_params(axis="x", top=False, bottom=False, labelbottom=False)
    for s in tw.spines.values():
        s.set_linewidth(2.2)
        s.set_color(INK)
    tw.spines["left"].set_color(LEFT_BLUE)
    tw.spines["right"].set_color(RIGHT_ORANGE)
    twins.append(tw)

axes[5].tick_params(axis="x", labelbottom=True)
axes[5].set_xticklabels(hour_labels)

ax6 = axes[5]
tw6 = twins[1]
note(ax6, "Large Position Error", (7.14, 5.47), (3.47, 4.9), zorder=10)
arrow(tw6, (6.1, 5.2), (5.17, 10.8), xycoords=axes[4].transData, textcoords=ax6.transData,
      annotation_clip=False)

# axis labels and title
ylabels = [("SYM-H\n[nT]", 43, 141, INK), ("vTEC\n[TECU]", 58, 328, INK),
           ("Sigma Phi\n[rad]", 72, 514, INK), ("Cycle Slips\n[%]", 72, 705, INK),
           ("3D $\\Delta$PPK\n[m]", 72, 887, LEFT_BLUE), ("3D $\\Delta$PPP\n[m]", 65, 1072, LEFT_BLUE)]
for txt, px, py, col in ylabels:
    fig.text(px / W, 1 - py / H, txt, rotation=90, ha="center", va="center", fontsize=16,
             fontweight="bold", color=col, multialignment="center", linespacing=1.2)

fig.text(562 / W, 1 - 1219 / H, "10-11 May 2024 [UT]", ha="center", va="center", fontsize=18,
         fontweight="bold", color=INK)
fig.text(588 / W, 1 - 22 / H, "Montana (p046)", ha="center", va="center", fontsize=19,
         family=["Liberation Sans Narrow", "DejaVu Sans"], fontweight="bold", color="black")

fig.savefig("out.png", dpi=100)
